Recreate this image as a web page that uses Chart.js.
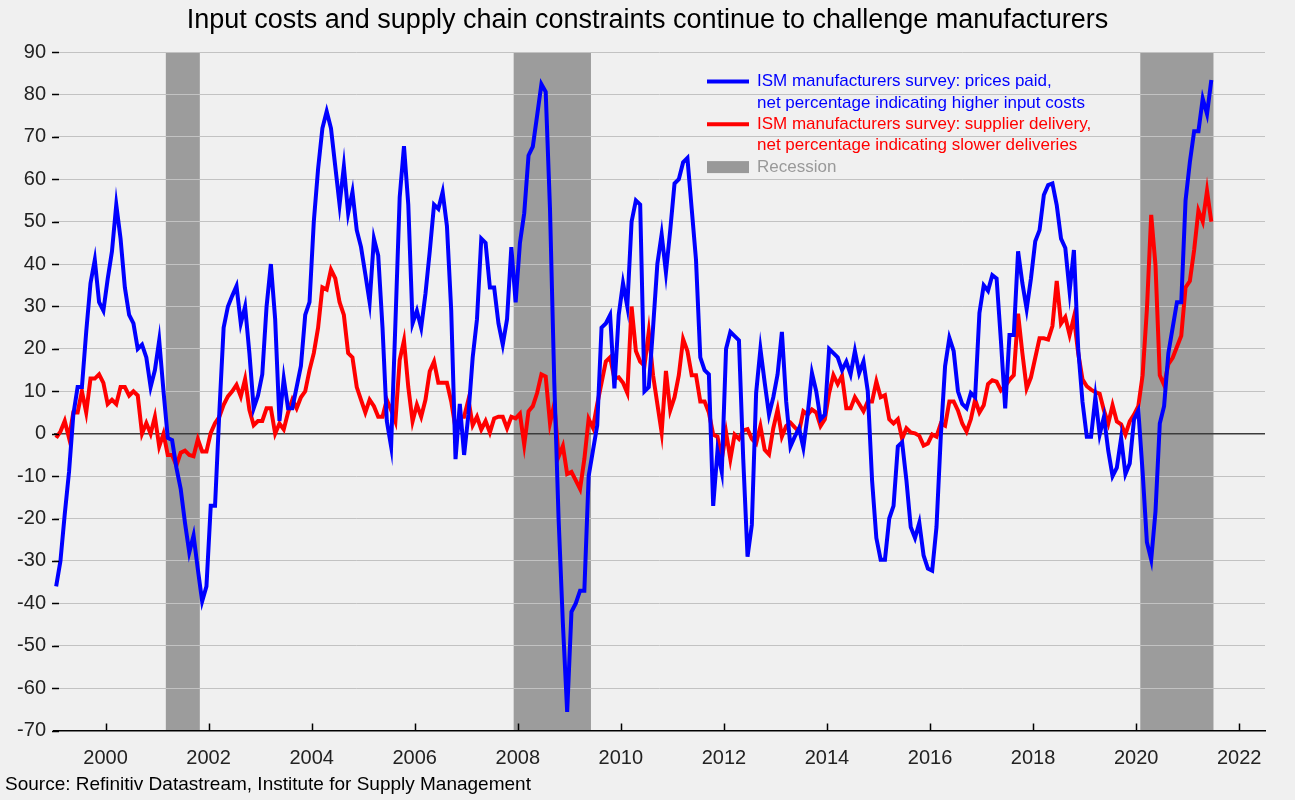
<!DOCTYPE html>
<html>
<head>
<meta charset="utf-8">
<script src="https://cdn.jsdelivr.net/npm/chart.js@4.4.1/dist/chart.umd.min.js"></script>
<style>
  html, body { margin: 0; padding: 0; background: #f0f0f0; }
  #wrap { width: 1295px; height: 800px; }
</style>
</head>
<body>
<div id="wrap"><canvas id="ism-chart"></canvas></div>
<script>
// monthly data, Jan 1999 - Jun 2021
const startYear = 1999;

const pricesPaid = [
  -36, -30, -19, -9, 4.5, 11, 11, 24, 35.5, 41, 31, 29,          // 1999
  36.5, 43, 54, 46, 34.5, 28, 26, 20, 21, 18, 11, 15,            // 2000
  22, 10, -1, -1.5, -8, -13, -21, -28, -24, -32, -39.5, -36,     // 2001
  -17, -17, 5, 25, 30, 32.5, 34.8, 26, 30, 19, 6, 9,             // 2002
  14, 30, 40, 27, 3, 13, 6, 6, 11, 16, 28, 31,                   // 2003
  50, 62.5, 72, 76, 72, 63, 54, 63, 52, 57, 48, 44,              // 2004
  37.6, 31, 46, 42, 25, 3, -3, 26, 55.8, 67.8, 54, 26,           // 2005
  29, 25, 33, 43, 54, 53, 57, 49, 29, -6, 7, -5,                 // 2006
  4.5, 18, 27, 46, 45, 34.5, 34.5, 26, 21, 27, 44, 31,           // 2007
  45, 52, 65.6, 67.7, 75, 82.4, 80.6, 53, 12, -20, -44.7, -65.6, // 2008
  -42, -40, -37, -37, -10, -4, 2, 25, 26, 28, 10.7, 28,          // 2009
  35.5, 30, 50, 55, 54, 10, 11, 25, 40, 47, 38, 48,              // 2010
  59, 60, 64, 65, 53, 41, 18, 15, 14, -17, -4, -9,               // 2011
  20, 24, 23, 22, -6, -29, -21.5, 9.6, 20, 12, 4.5, 8.6,         // 2012
  14, 24, 7.6, -3, -0.7, 1.3, -3.3, 4.5, 14.3, 10, 3.4, 4.5,     // 2013
  20, 19, 18, 15, 17, 14, 19.5, 14.3, 17, 10, -11, -24.6,        // 2014
  -29.7, -29.7, -20, -17, -3, -2, -11, -22, -24.6, -21, -28.7, -31.8, // 2015
  -32.3, -22, -0.7, 15.9, 22.6, 19.5, 10, 7, 6, 9.6, 8.6, 28.5,  // 2016
  35, 33.7, 37.4, 36.6, 22, 6, 23.3, 23.3, 43, 35.5, 29.4, 36.6, // 2017
  45.4, 48, 56.3, 58.6, 59, 53.9, 46, 43.8, 33.5, 43.3, 20, 7.5, // 2018
  -0.7, -0.7, 8.6, -0.2, 4, -4, -10, -8, -1, -9.5, -7, 3.4,      // 2019
  5.5, -9, -25.6, -29.7, -18.3, 2.4, 6.5, 19, 25, 31, 31, 55,    // 2020
  64, 71.3, 71.3, 79, 75.4, 83.4                                 // 2021
];

const supplierDeliveries = [
  -1, 0.5, 3, -1, 5, 5, 10, 5, 13, 13, 14, 12,                   // 1999
  7, 8, 7, 11, 11, 9, 10, 9, 0, 2.5, 0, 4,                       // 2000
  -3, 0, -5, -5, -7.5, -4.5, -4, -5, -5.3, -1.3, -4.2, -4.2,     // 2001
  0.2, 2.5, 4, 6.8, 8.8, 10, 11.5, 8.8, 12.9, 5.6, 2, 3,         // 2002
  3, 6, 6, 0, 2.4, 1, 5, 8, 6, 8.6, 10, 15,                      // 2003
  19, 25, 34.5, 34, 38.7, 36.6, 31, 28, 19, 18, 11, 8,           // 2004
  5, 8, 6.5, 4, 4, 8, 5.6, 2.9, 17.4, 22, 11, 2.9,               // 2005
  6.8, 4, 8, 14.7, 17, 12, 12, 12, 7.6, 1.3, 4, 4,               // 2006
  8, 2, 4, 1, 3, 0.3, 3.6, 4, 4, 1.3, 4, 3.6,                    // 2007
  4.7, -2.6, 5.3, 6.5, 9.6, 14, 13.5, 2.5, 7, -5.4, -2.9, -9.5,  // 2008
  -9, -11, -13, -6, 3.5, 1.4, 7, 12, 17, 18, 13, 13.3,           // 2009
  12, 9.6, 30, 19.5, 17, 16, 24, 13.8, 7, 0.3, 14.8, 5.5,        // 2010
  8.6, 13.8, 22.3, 19.5, 13.8, 13.8, 7.6, 7.6, 5, -0.2, -0.7, -6, // 2011
  0.3, -6, -0.2, -1.2, 0.8, 1.1, -1.2, -2.3, 1.8, -3.8, -4.9, 1.3, // 2012
  5.7, -0.7, 1.8, 2.6, 1.5, 0.5, 5.3, 4.5, 5.7, 5, 1.8, 3.4,     // 2013
  9.6, 13.8, 11.7, 13.7, 6, 6, 8.6, 7, 5.3, 7.6, 7.6, 12.3,      // 2014
  8.6, 9.1, 3.4, 2.4, 3.4, -1.2, 1.3, 0.3, 0.1, -0.5, -2.8, -2.3, // 2015
  -0.2, -0.7, 2.4, 1.9, 7.6, 7.6, 5.5, 2.4, 0.5, 3.4, 8, 5,      // 2016
  6.7, 11.7, 12.6, 12.3, 10.2, 11.2, 12.7, 13.8, 28.3, 19, 10.7, 13.3, // 2017
  17.9, 22.5, 22.5, 22.2, 25.4, 36, 26, 27.5, 23.3, 27.5, 19, 12.8, // 2018
  11.2, 10.4, 9.8, 9.4, 5.5, 2.4, 6.7, 2.9, 2.2, -0.2, 2.9, 4.5, // 2019
  6.5, 13.8, 29.3, 51.6, 39.7, 13.8, 11.5, 16.4, 17.9, 20.5, 23.1, 34.5, // 2020
  36, 43.3, 52.6, 50, 57.3, 50                                   // 2021
];

// recession periods as fractional years [start, end]
const recessions = [
  [2001.17, 2001.83],
  [2007.92, 2009.42],
  [2020.08, 2021.5],
];

const yearTicks = [2000, 2002, 2004, 2006, 2008, 2010, 2012, 2014, 2016, 2018, 2020, 2022];

const chartTitle = "Input costs and supply chain constraints continue to challenge manufacturers";

const legendEntries = [
  { lines: ["ISM manufacturers survey: prices paid,", "net percentage indicating higher input costs"], color: "#0000ff", kind: "line" },
  { lines: ["ISM manufacturers survey: supplier delivery,", "net percentage indicating slower deliveries"], color: "#ff0000", kind: "line" },
  { lines: ["Recession"], color: "#999999", kind: "box" },
];

const FONT = "'Liberation Sans', Arial, sans-serif";
const SHADE = "#9c9c9c";

// month midpoints
const monthX = pricesPaid.map((_, i) => startYear + (i + 0.5) / 12);
const toPoints = (arr) => arr.map((v, i) => ({ x: monthX[i], y: v }));

const backdrop = {
  id: "backdrop",
  beforeDraw(chart) {
    const { ctx, chartArea, scales } = chart;
    ctx.save();
    ctx.fillStyle = "#f0f0f0";
    ctx.fillRect(0, 0, chart.width, chart.height);
    ctx.fillStyle = SHADE;
    recessions.forEach(([a, b]) => {
      const x1 = scales.x.getPixelForValue(a);
      const x2 = scales.x.getPixelForValue(b);
      ctx.fillRect(x1, chartArea.top, x2 - x1, chartArea.bottom - chartArea.top);
    });
    // title centred on the whole canvas
    ctx.fillStyle = "#000";
    ctx.font = "27px " + FONT;
    ctx.textAlign = "center";
    ctx.textBaseline = "middle";
    ctx.fillText(chartTitle, chart.width / 2, 21);
    ctx.restore();
  },
};

const tickMarks = {
  id: "tickMarks",
  afterDraw(chart) {
    const { ctx, chartArea, scales } = chart;
    ctx.save();
    ctx.strokeStyle = "#000";
    ctx.lineWidth = 1.5;
    ctx.beginPath();
    yearTicks.forEach((yr) => {
      const x = Math.round(scales.x.getPixelForValue(yr)) + 0.5;
      ctx.moveTo(x, chartArea.bottom);
      ctx.lineTo(x, chartArea.bottom - 7);
    });
    scales.y.ticks.forEach((t) => {
      const y = Math.round(scales.y.getPixelForValue(t.value)) + 0.5;
      ctx.moveTo(chartArea.left - 2, y);
      ctx.lineTo(chartArea.left + 5, y);
    });
    ctx.stroke();
    ctx.restore();
  },
};

const legendBox = {
  id: "legendBox",
  afterDraw(chart) {
    const { ctx } = chart;
    const x0 = 707, x1 = 749, tx = 757;
    let y = 81.5;
    ctx.save();
    ctx.font = "17px " + FONT;
    ctx.textBaseline = "middle";
    ctx.textAlign = "left";
    legendEntries.forEach((e) => {
      if (e.kind === "line") {
        ctx.strokeStyle = e.color;
        ctx.lineWidth = 4;
        ctx.beginPath();
        ctx.moveTo(x0, y);
        ctx.lineTo(x1, y);
        ctx.stroke();
      } else {
        ctx.fillStyle = e.color;
        ctx.fillRect(x0, y - 6, x1 - x0, 12);
      }
      ctx.fillStyle = e.color;
      e.lines.forEach((line) => {
        ctx.fillText(line, tx, y);
        y += 21.4;
      });
    });
    ctx.restore();
  },
};

new Chart(document.getElementById("ism-chart"), {
  type: "line",
  data: {
    datasets: [
      {
        label: "ISM prices paid",
        data: toPoints(pricesPaid),
        borderColor: "#0000ff",
        borderWidth: 4,
        pointRadius: 0,
        tension: 0,
      },
      {
        label: "ISM supplier delivery",
        data: toPoints(supplierDeliveries),
        borderColor: "#ff0000",
        borderWidth: 4,
        pointRadius: 0,
        tension: 0,
      },
    ],
  },
  options: {
    responsive: true,
    maintainAspectRatio: false,
    animation: false,
    layout: { padding: { left: 5, right: 30, top: 52, bottom: 0 } },
    scales: {
      x: {
        type: "linear",
        min: 1999,
        max: 2022.5,
        afterBuildTicks: (scale) => {
          scale.ticks = yearTicks.map((v) => ({ value: v }));
        },
        afterFit: (scale) => {
          scale.height = 40;
        },
        ticks: {
          callback: (v) => String(v),
          font: { family: FONT, size: 20 },
          color: "#222",
          padding: 16,
          maxRotation: 0,
        },
        grid: { display: false, drawTicks: false },
        border: { display: true, color: "#000", width: 1.5 },
      },
      y: {
        min: -70,
        max: 90,
        afterFit: (scale) => {
          scale.width = 49;
        },
        ticks: {
          stepSize: 10,
          font: { family: FONT, size: 20 },
          color: "#222",
          padding: 8,
        },
        grid: {
          drawTicks: false,
          color: (c) => (c.tick && c.tick.value === 0 ? "#3c3c3c" : "#c2c2c2"),
          lineWidth: (c) => (c.tick && c.tick.value === 0 ? 1.5 : 1),
        },
        border: { display: false },
      },
    },
    plugins: {
      legend: { display: false },
      tooltip: { enabled: false },
      title: { display: false },
      subtitle: {
        display: true,
        position: "bottom",
        align: "start",
        text: "Source: Refinitiv Datastream, Institute for Supply Management",
        font: { family: FONT, size: 19, weight: "normal" },
        color: "#000",
        padding: { top: 3, bottom: 3.6 },
      },
    },
  },
  plugins: [backdrop, tickMarks, legendBox],
});
</script>
</body>
</html>
